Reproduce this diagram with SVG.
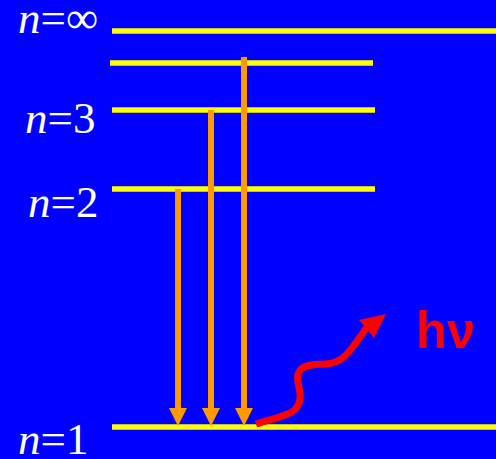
<svg xmlns="http://www.w3.org/2000/svg" width="496" height="459" viewBox="0 0 496 459">
<style>
.lvl{stroke:#FFFF00;stroke-width:5.5;fill:none}
.tr{stroke:#FF9900;stroke-width:6;fill:none}
.lab{font-family:'Liberation Serif','DejaVu Serif',serif;font-size:45px;fill:#FFFFFF}
.hv{font-family:'Liberation Sans',Arial,sans-serif;font-weight:bold;font-size:52px;fill:#FF0000}
</style>
<rect width="496" height="459" fill="#0000FF"/>
<g id="level-inf"><line class="lvl" x1="112" y1="31" x2="496" y2="31"/><text class="lab" x="18" y="33"><tspan font-style="italic">n</tspan>=∞</text></g>
<g id="level-4"><line class="lvl" x1="110" y1="63" x2="373" y2="63"/></g>
<g id="level-3"><line class="lvl" x1="112" y1="110" x2="375" y2="110"/><text class="lab" x="25" y="133"><tspan font-style="italic">n</tspan>=3</text></g>
<g id="level-2"><line class="lvl" x1="112" y1="189" x2="375" y2="189"/><text class="lab" x="28" y="217"><tspan font-style="italic">n</tspan>=2</text></g>
<g id="level-1"><line class="lvl" x1="112" y1="427" x2="496" y2="427"/><text class="lab" x="18" y="454"><tspan font-style="italic">n</tspan>=1</text></g>
<g id="photon"><text class="hv" x="416" y="348" textLength="59" lengthAdjust="spacingAndGlyphs">hν</text></g>
<g id="connectors">
<line x1="178" y1="189" x2="178" y2="408" class="tr"/>
<path d="M169,408 L187,408 L178,426 Z" fill="#FF9900"/>
<line x1="211" y1="110" x2="211" y2="408" class="tr"/>
<path d="M202,408 L220,408 L211,426 Z" fill="#FF9900"/>
<line x1="244" y1="57" x2="244" y2="408" class="tr"/>
<path d="M235,408 L253,408 L244,426 Z" fill="#FF9900"/>
<path d="M256,424 C275,418 292,415 297,407 C305,395 295,382 298,374 C302,364 312,365 325,364 C345,363 350,350 368,326" fill="none" stroke="#FF0000" stroke-width="7"/>
<path d="M359,320 L386,314 L374,338 Z" fill="#FF0000"/>
</g>
</svg>
